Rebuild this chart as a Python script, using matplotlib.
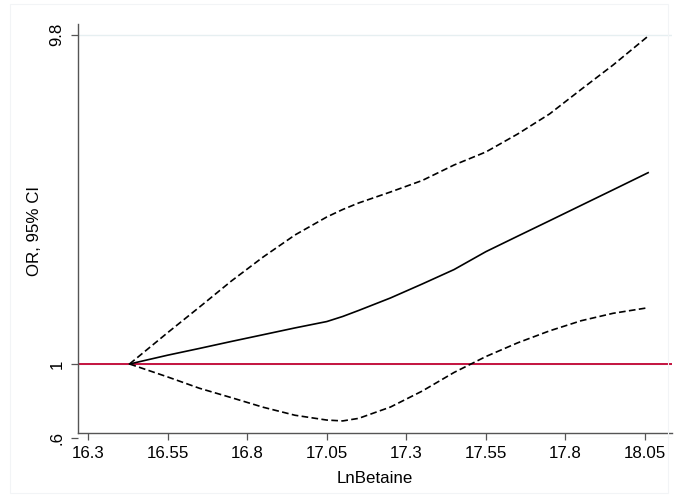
import matplotlib.pyplot as plt
from matplotlib.patches import Rectangle

plt.rcParams['font.family'] = ['Liberation Sans', 'DejaVu Sans']

# LnBetaine values and OR with 95% CI
ln_betaine = [16.43, 16.55, 16.65, 16.75, 16.85, 16.95, 17.05, 17.10, 17.15, 17.25,
              17.35, 17.45, 17.55, 17.65, 17.75, 17.85, 17.95, 18.06]
odds_ratio = [1.0, 1.063, 1.114, 1.169, 1.225, 1.284, 1.342, 1.390, 1.449, 1.580,
              1.741, 1.924, 2.178, 2.425, 2.698, 3.004, 3.344, 3.765]
ci_upper = [1.0, 1.243, 1.484, 1.777, 2.099, 2.445, 2.770, 2.917, 3.052, 3.293,
            3.567, 3.971, 4.346, 4.923, 5.655, 6.711, 7.942, 9.70]
ci_lower = [1.0, 0.914, 0.845, 0.792, 0.741, 0.701, 0.678, 0.674, 0.686, 0.742,
            0.829, 0.943, 1.053, 1.158, 1.258, 1.350, 1.421, 1.477]

x_ticks = [16.3, 16.55, 16.8, 17.05, 17.3, 17.55, 17.8, 18.05]
x_tick_labels = ["16.3", "16.55", "16.8", "17.05", "17.3", "17.55", "17.8", "18.05"]
y_ticks = [0.6, 1, 9.8]
y_tick_labels = [".6", "1", "9.8"]

fig = plt.figure(figsize=(6.78, 4.97), dpi=100)
fig.patches.append(Rectangle((10 / 678, 4 / 497), 658 / 678, 489 / 497,
                             transform=fig.transFigure, fill=False,
                             edgecolor='#f2f4f6', linewidth=0.8))
ax = fig.add_axes([78 / 678, (497 - 437.7) / 497, 594 / 678, (437.7 - 24) / 497])

ax.set_yscale('log')
ax.set_xlim(16.268, 18.135)
ax.set_ylim(0.6, 10.55)

for yv in y_ticks:
    ax.axhline(yv, color='#e6eff1', linewidth=1.0, zorder=0)

ax.axhline(1, color='#c4123f', linewidth=1.4, zorder=2)
ax.plot(ln_betaine, odds_ratio, color='black', linewidth=1.2, zorder=3)
ax.plot(ln_betaine, ci_upper, color='black', linewidth=1.2, dashes=(4, 2), zorder=3)
ax.plot(ln_betaine, ci_lower, color='black', linewidth=1.2, dashes=(4, 2), zorder=3)

ax.set_xticks(x_ticks)
ax.set_xticklabels(x_tick_labels)
ax.set_yticks(y_ticks)
ax.set_yticklabels(y_tick_labels, rotation=90, va='center')
ax.minorticks_off()

for side in ['top', 'right']:
    ax.spines[side].set_visible(False)
ax.spines['bottom'].set_position(('data', 0.62))
ax.spines['left'].set_bounds(0.62, 10.55)
for side in ['left', 'bottom']:
    ax.spines[side].set_color('#555555')
    ax.spines[side].set_linewidth(1.0)

ax.tick_params(axis='both', colors='#555555', labelcolor='black', labelsize=12.2,
               length=5.3, width=0.9)
ax.tick_params(axis='x', pad=4)
ax.tick_params(axis='y', pad=4.5)

ax.set_xlabel("LnBetaine", fontsize=12.2, labelpad=7)
ax.set_ylabel("OR, 95% CI", fontsize=12.2, labelpad=5)

fig.savefig("out.png", dpi=100)
